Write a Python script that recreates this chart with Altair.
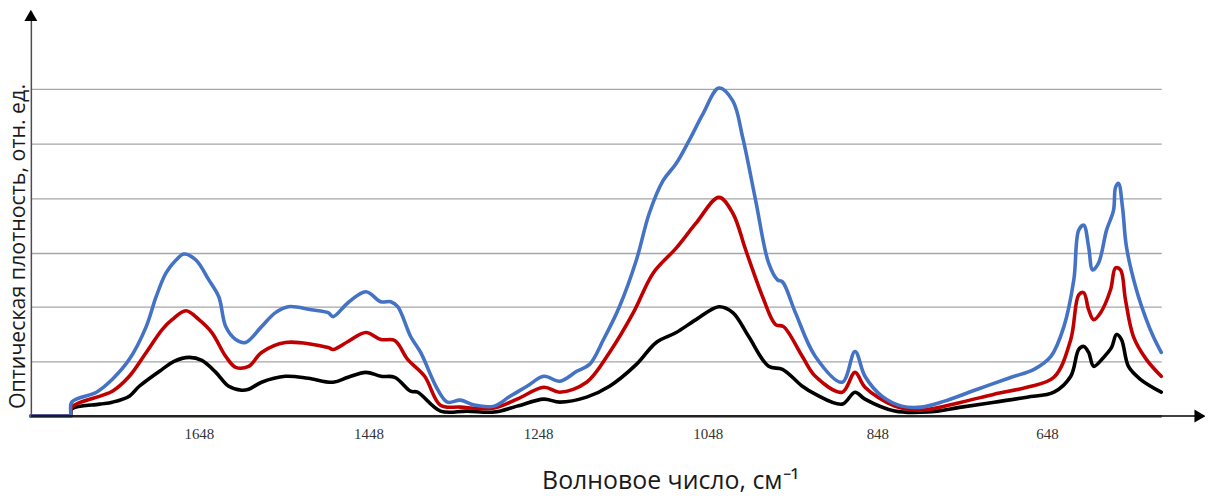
import altair as alt
import pandas as pd

# ---- data ----
wn_black = [1846.1, 1800.0, 1799.0, 1798.0, 1765.2, 1750.0, 1730.0, 1718.3, 1691.3, 1677.3, 1659.7,
            1644.5, 1628.0, 1612.8, 1597.6, 1589.3, 1574.1, 1546.0, 1519.0, 1489.7, 1472.1,
            1451.0, 1433.4, 1417.0, 1398.3, 1390.1, 1363.1, 1331.5, 1299.8, 1272.8, 1241.2,
            1222.4, 1190.8, 1163.8, 1132.1, 1108.7, 1085.2, 1061.8, 1034.8, 1018.4, 999.7,
            976.2, 959.8, 936.4, 921.1, 889.5, 874.3, 862.6, 827.4, 788.7, 748.8,
            710.1, 671.5, 639.8, 619.9, 610.5, 604.6, 598.8, 592.9, 581.2, 571.8,
            566.0, 560.1, 551.9, 537.8, 513.2]
ab_black = [0.0, 0.0, 0.0, 0.128, 0.219, 0.255, 0.365, 0.547, 0.857, 1.003, 1.076,
            1.021, 0.802, 0.547, 0.474, 0.492, 0.620, 0.730, 0.693, 0.620, 0.711,
            0.802, 0.730, 0.711, 0.456, 0.438, 0.091, 0.091, 0.073, 0.182, 0.310,
            0.255, 0.347, 0.547, 0.948, 1.350, 1.532, 1.769, 2.006, 1.897, 1.459,
            0.912, 0.857, 0.547, 0.401, 0.219, 0.438, 0.310, 0.091, 0.073, 0.164,
            0.255, 0.347, 0.438, 0.730, 1.222, 1.277, 1.167, 0.912, 1.076, 1.258,
            1.496, 1.404, 0.912, 0.675, 0.438]

wn_red = [1846.1, 1800.0, 1799.0, 1798.0, 1750.0, 1730.0, 1710.1, 1691.3, 1679.6, 1663.2, 1647.9,
          1632.7, 1616.3, 1604.6, 1589.3, 1574.1, 1546.0, 1495.6, 1489.7, 1472.1, 1451.0,
          1433.4, 1417.0, 1401.8, 1381.8, 1363.1, 1339.6, 1299.8, 1272.8, 1241.2, 1222.4,
          1190.8, 1163.8, 1135.7, 1112.2, 1085.2, 1061.8, 1034.8, 1018.4, 1003.2, 983.3,
          968.0, 958.6, 936.4, 921.1, 889.5, 874.3, 862.6, 827.4, 795.7, 748.8,
          710.1, 671.5, 639.8, 619.9, 610.5, 604.6, 598.8, 592.9, 584.7, 573.0,
          567.1, 561.2, 555.4, 546.0, 530.8, 513.2]
ab_red = [0.0, 0.0, 0.0, 0.164, 0.456, 0.730, 1.167, 1.587, 1.769, 1.933, 1.769,
          1.532, 1.094, 0.894, 0.912, 1.167, 1.350, 1.258, 1.222, 1.368, 1.532,
          1.404, 1.386, 1.040, 0.730, 0.200, 0.164, 0.146, 0.310, 0.529, 0.438,
          0.620, 1.167, 1.897, 2.626, 3.082, 3.538, 4.012, 3.721, 3.046, 2.189,
          1.678, 1.641, 1.094, 0.730, 0.438, 0.802, 0.529, 0.182, 0.109, 0.255,
          0.401, 0.529, 0.711, 1.404, 2.225, 2.262, 1.951, 1.769, 1.897, 2.316,
          2.717, 2.681, 2.134, 1.459, 1.040, 0.730]

wn_blue = [1846.1, 1800.0, 1799.0, 1798.0, 1768.7, 1750.0, 1730.0, 1710.1, 1698.4, 1686.7, 1674.9,
           1665.5, 1651.5, 1636.3, 1624.5, 1616.3, 1604.6, 1592.9, 1574.1, 1557.7, 1542.5,
           1515.5, 1495.6, 1489.7, 1472.1, 1451.0, 1433.4, 1421.7, 1413.5, 1398.3, 1386.5,
           1366.6, 1354.9, 1339.6, 1323.2, 1299.8, 1281.0, 1261.1, 1241.2, 1222.4, 1202.5,
           1187.3, 1170.9, 1152.1, 1132.1, 1116.9, 1100.5, 1085.2, 1070.0, 1053.6, 1034.8,
           1018.4, 1006.7, 991.5, 976.2, 965.7, 959.8, 944.6, 921.1, 889.5, 874.3,
           862.6, 842.6, 819.2, 795.7, 768.7, 729.9, 690.0, 663.2, 643.3, 628.0,
           616.3, 610.5, 604.6, 598.8, 594.1, 587.1, 577.7, 569.5, 567.1, 563.6,
           558.9, 554.2, 542.5, 530.8, 522.6, 513.2]
ab_blue = [0.0, 0.0, 0.0, 0.255, 0.438, 0.675, 1.040, 1.641, 2.189, 2.626, 2.863,
           2.973, 2.863, 2.499, 2.189, 1.641, 1.404, 1.350, 1.641, 1.897, 2.006,
           1.951, 1.897, 1.824, 2.079, 2.280, 2.097, 2.097, 2.006, 1.459, 1.167,
           0.492, 0.255, 0.292, 0.201, 0.182, 0.365, 0.547, 0.730, 0.638, 0.821,
           0.948, 1.404, 2.006, 2.863, 3.721, 4.322, 4.632, 5.052, 5.544, 6.019,
           5.782, 5.107, 3.958, 2.809, 2.499, 2.462, 1.897, 1.094, 0.620, 1.185,
           0.730, 0.365, 0.182, 0.164, 0.274, 0.492, 0.711, 0.857, 1.094, 1.641,
           2.499, 3.411, 3.502, 3.100, 2.681, 2.809, 3.411, 3.775, 4.195, 4.268,
           3.830, 3.100, 2.316, 1.769, 1.459, 1.167]

x_ticks = [1648, 1448, 1248, 1048, 848, 648]
y_grid = [1, 2, 3, 4, 5, 6]
x_title = "Волновое число, см⁻¹"
y_title = "Оптическая плотность, отн. ед."

# ---- layout ----
W, H = 1137, 407
XMIN, XMAX = 513.2, 1846.1
YMAX = 7.423

x_scale = alt.Scale(domain=[XMIN, XMAX], reverse=True, nice=False, zero=False)
y_scale = alt.Scale(domain=[0, YMAX], nice=False, zero=False)

x_axis = alt.Axis(values=x_ticks, format="d", grid=False, ticks=False, tickSize=0,
                  labelFont="Liberation Serif", labelFontSize=15, labelColor="#333333",
                  labelBaseline="alphabetic", labelPadding=23,
                  domainColor="#8c8c8c", domainWidth=3,
                  title=x_title, titleFont="Open Sans", titleFontSize=25,
                  titleFontWeight="normal", titleColor="#1a1a1a",
                  titleX=643, titleY=73, titleAlign="center", titleBaseline="alphabetic",
                  labelFlush=False)
y_axis = alt.Axis(values=y_grid, grid=True, gridColor="#a6a6a6", gridWidth=1.3,
                  ticks=False, tickSize=0, labels=False,
                  domainColor="#4d4d4d", domainWidth=1.5,
                  title=y_title, titleFont="Open Sans", titleFontSize=21.5,
                  titleFontWeight="normal", titleColor="#1a1a1a",
                  titleX=-12, titleY=236, titleAngle=270,
                  titleAlign="center", titleBaseline="middle")


def series(wn, ab, color):
    df = pd.DataFrame({"wn": wn, "ab": ab})
    return alt.Chart(df).mark_line(color=color, strokeWidth=3.6,
                                   interpolate="catmull-rom", strokeJoin="round",
                                   strokeCap="round").encode(
        x=alt.X("wn:Q", scale=x_scale, axis=x_axis),
        y=alt.Y("ab:Q", scale=y_scale, axis=y_axis),
    )


one = pd.DataFrame({"a": [0]})
x_arrow_line = alt.Chart(one).mark_rule(color="black", strokeWidth=1.5).encode(
    x=alt.value(0), x2=alt.value(1176), y=alt.value(H))
x_arrow_head = alt.Chart(one).mark_point(shape="triangle-right", filled=True,
                                         color="black", size=170, opacity=1).encode(
    x=alt.value(1176), y=alt.value(H))
y_arrow_head = alt.Chart(one).mark_point(shape="triangle-up", filled=True,
                                         color="black", size=170, opacity=1).encode(
    x=alt.value(0), y=alt.value(4))

chart = alt.layer(
    series(wn_black, ab_black, "#000000"),
    series(wn_red, ab_red, "#c00000"),
    series(wn_blue, ab_blue, "#4472c4"),
    x_arrow_line, x_arrow_head, y_arrow_head,
).properties(
    width=W, height=H,
    background="white",
    autosize=alt.AutoSizeParams(type="none"),
    padding={"left": 23, "top": 2, "right": 44, "bottom": 86},
).configure_view(stroke=None, strokeWidth=0)

chart.save("out.html", embed_options={"renderer": "svg", "actions": False})
